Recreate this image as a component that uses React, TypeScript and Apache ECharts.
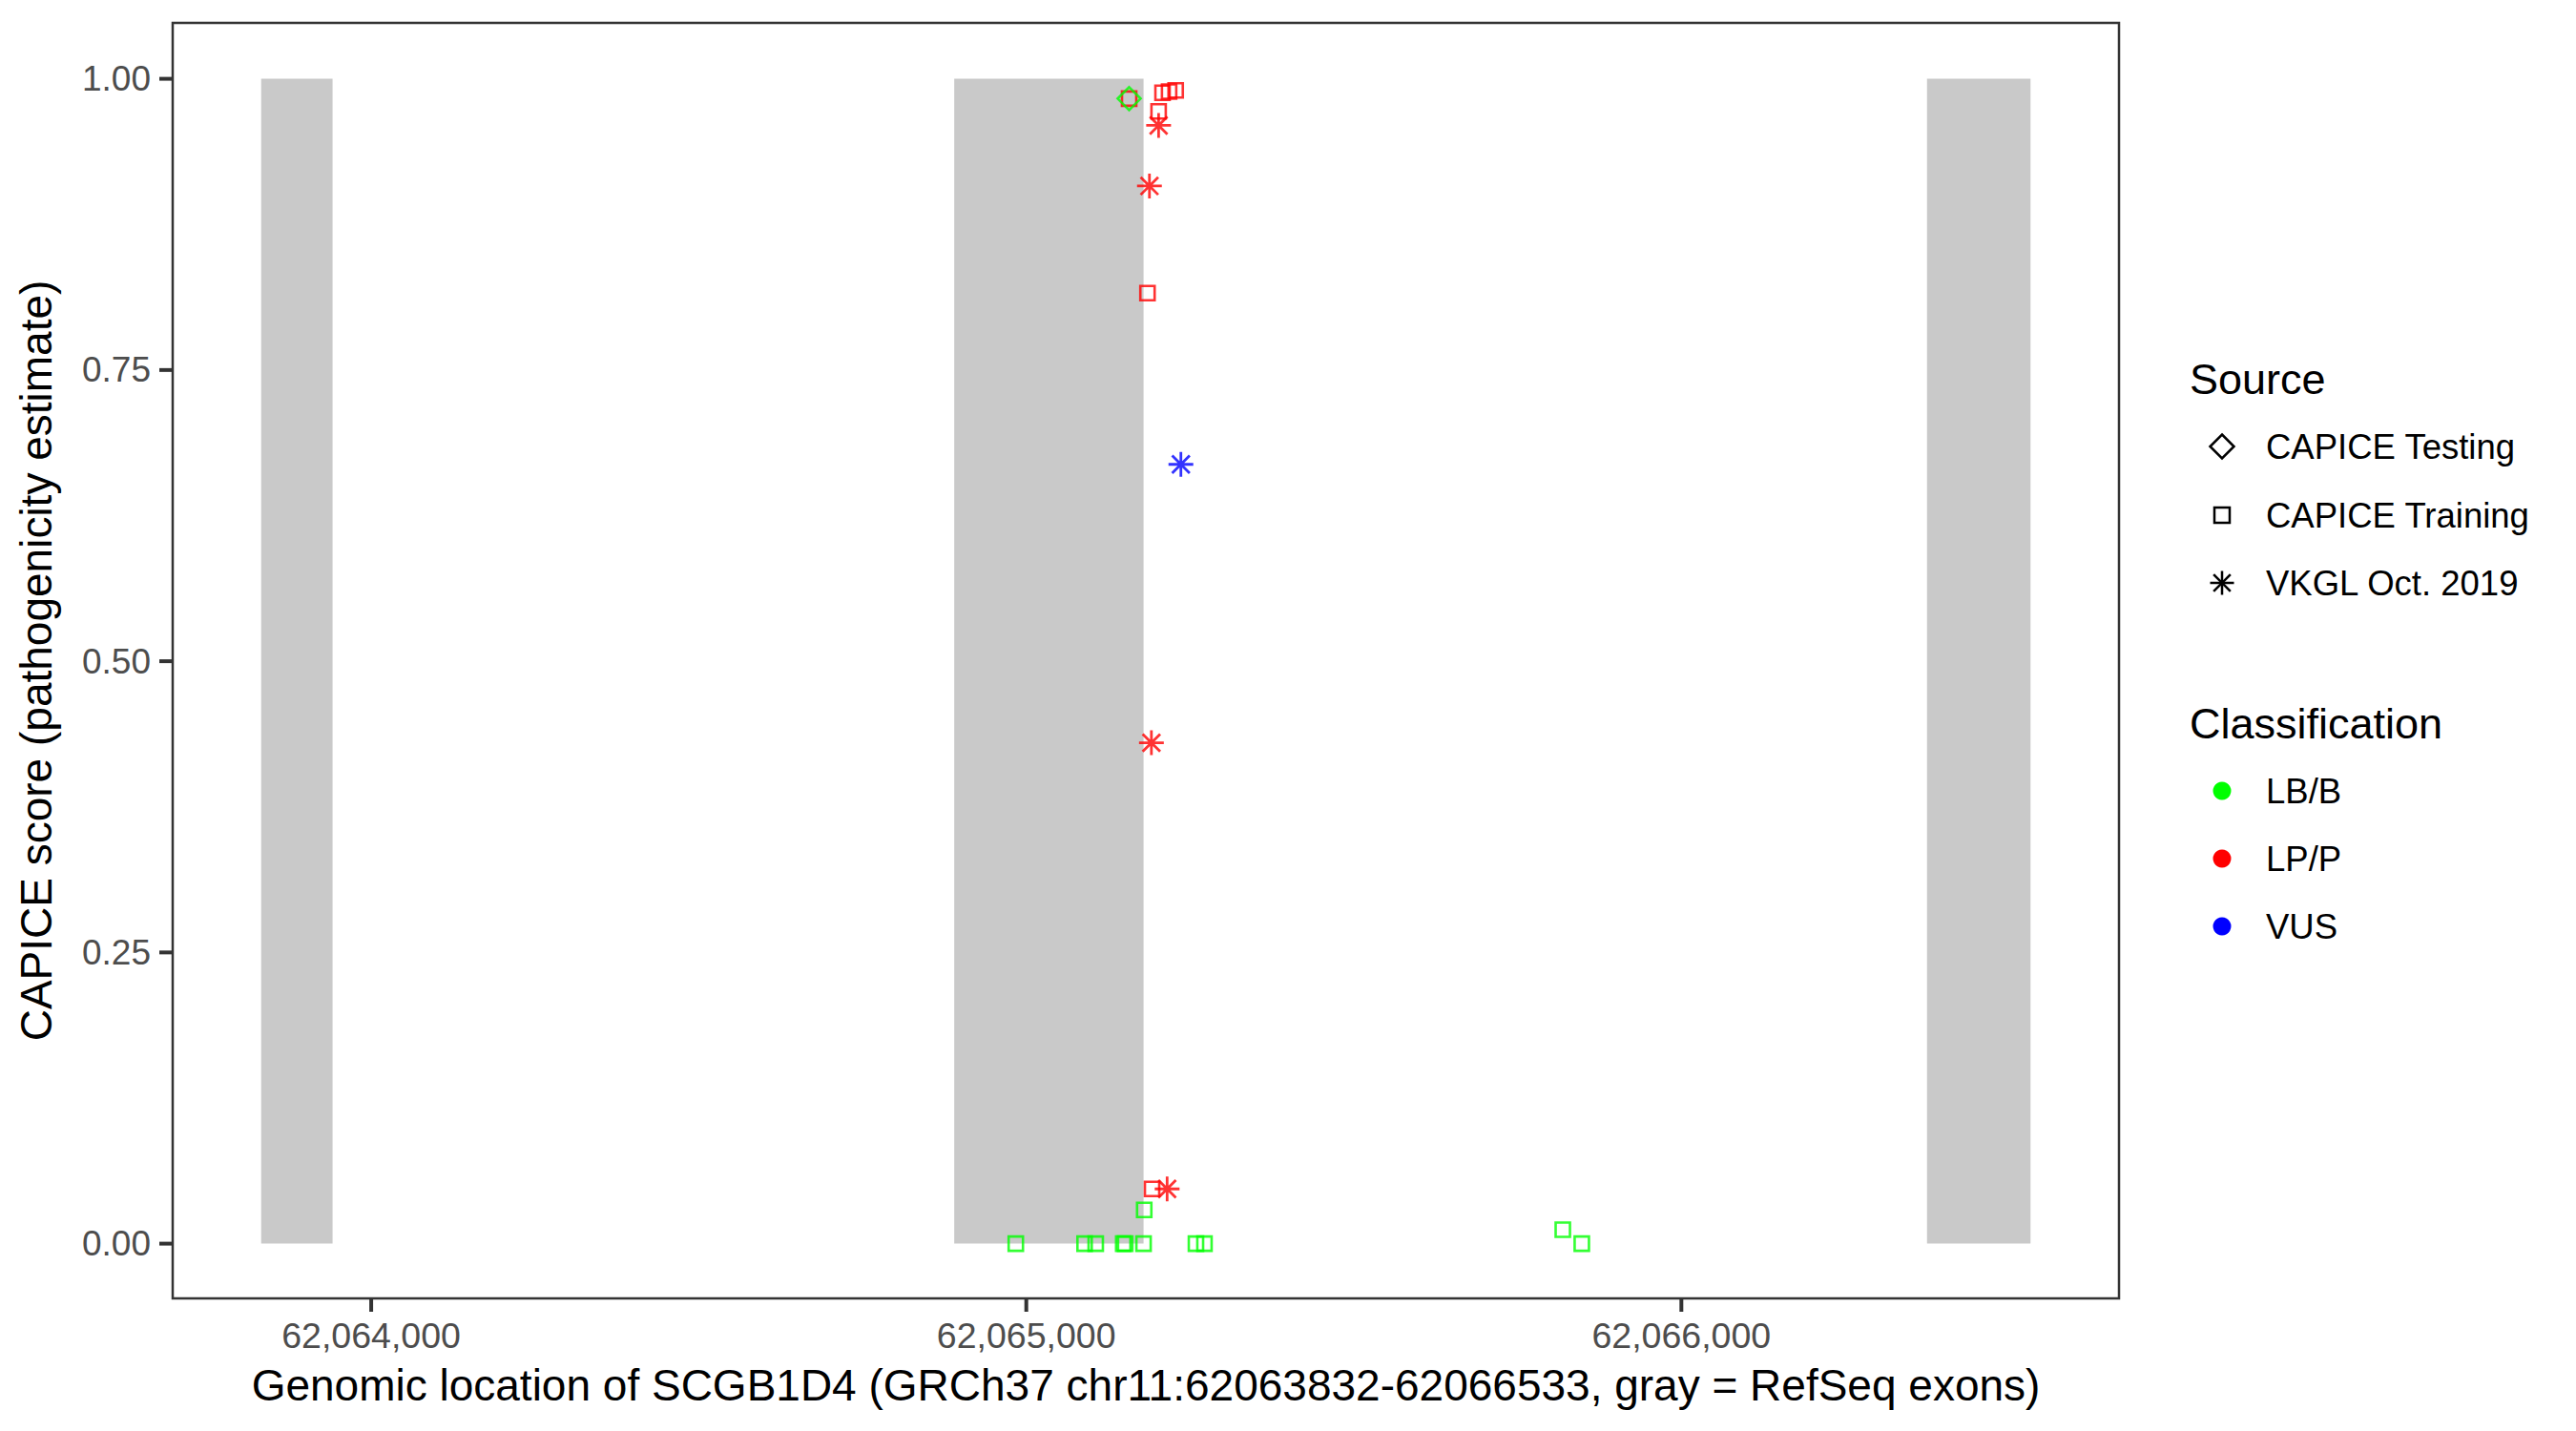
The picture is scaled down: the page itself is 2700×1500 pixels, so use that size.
import React, { useEffect, useRef } from "react";
import * as echarts from "echarts";

// ---- Data ----
const regionStart = 62063832;
const regionEnd = 62066533;

const exonStarts = [62063832, 62064890, 62066375];
const exonEnds = [62063941, 62065179, 62066533];

const xTicks = [62064000, 62065000, 62066000];
const yTicks = [0, 0.25, 0.5, 0.75, 1];

// CAPICE Training, LB/B (green squares)
const trainLBx = [62065180, 62064984, 62065089, 62065106, 62065148, 62065151, 62065179, 62065259, 62065272, 62065819, 62065848];
const trainLBy = [0.029, 0.0, 0.0, 0.0, 0.0, 0.0, 0.0, 0.0, 0.0, 0.012, 0.0];

// CAPICE Training, LP/P (red squares)
const trainLPx = [62065157, 62065208, 62065218, 62065228, 62065202, 62065185, 62065192];
const trainLPy = [0.983, 0.988, 0.989, 0.99, 0.972, 0.816, 0.047];

// CAPICE Testing, LB/B (green diamond)
const testLBx = [62065157];
const testLBy = [0.983];

// VKGL Oct. 2019, LP/P (red asterisks)
const vkglLPx = [62065202, 62065188, 62065191, 62065215];
const vkglLPy = [0.96, 0.908, 0.43, 0.047];

// VKGL Oct. 2019, VUS (blue asterisk)
const vkglVUSx = [62065236];
const vkglVUSy = [0.669];

const sourceLabels = ["CAPICE Testing", "CAPICE Training", "VKGL Oct. 2019"];
const classLabels = ["LB/B", "LP/P", "VUS"];
const classColors = ["#00FF00", "#FF0000", "#0000FF"];

const FONT = "'Liberation Sans', Arial, Helvetica, sans-serif";
const STAR = "path://M10,0L10,20M0,10L20,10M2.93,2.93L17.07,17.07M2.93,17.07L17.07,2.93";

const zip = (xs: number[], ys: number[]) => xs.map((x, i) => [x, ys[i]]);

export default function App() {
  const ref = useRef<HTMLDivElement>(null);

  useEffect(() => {
    document.body.style.margin = "0";
    if (!ref.current) return;
    const chart = echarts.init(ref.current, undefined, { renderer: "svg" });

    const pad = (regionEnd - regionStart) * 0.05;
    const yMin = -0.047;
    const yMax = 1.048;
    const TICK_LEN = 14;
    const TICK_W = 4;
    const TICK_COLOR = "#333333";

    const squareStyle = (c: string) => ({ color: "transparent", borderColor: c, borderWidth: 2.6 });
    const starStyle = (c: string) => ({ color: "transparent", borderColor: c, borderWidth: 2.8 });

    // legend graphics
    const lx = 2329;
    const rowsS = [468, 540, 611];
    const rowsC = [829, 900, 971];
    const r = 12.5;
    const legend: any[] = [
      { type: "text", x: 2295, y: 397, style: { text: "Source", font: `45px ${FONT}`, fill: "#000", verticalAlign: "middle", align: "left" } },
      { type: "text", x: 2295, y: 758, style: { text: "Classification", font: `45px ${FONT}`, fill: "#000", verticalAlign: "middle", align: "left" } },
      {
        type: "polygon",
        shape: { points: [[lx, rowsS[0] - r], [lx + r, rowsS[0]], [lx, rowsS[0] + r], [lx - r, rowsS[0]]] },
        style: { fill: "none", stroke: "#000", lineWidth: 2.5 },
      },
      { type: "rect", shape: { x: lx - 8, y: rowsS[1] - 8, width: 16, height: 16 }, style: { fill: "none", stroke: "#000", lineWidth: 2.5 } },
      { type: "line", shape: { x1: lx, y1: rowsS[2] - r, x2: lx, y2: rowsS[2] + r }, style: { stroke: "#000", lineWidth: 2.5 } },
      { type: "line", shape: { x1: lx - r, y1: rowsS[2], x2: lx + r, y2: rowsS[2] }, style: { stroke: "#000", lineWidth: 2.5 } },
      { type: "line", shape: { x1: lx - r * 0.707, y1: rowsS[2] - r * 0.707, x2: lx + r * 0.707, y2: rowsS[2] + r * 0.707 }, style: { stroke: "#000", lineWidth: 2.5 } },
      { type: "line", shape: { x1: lx - r * 0.707, y1: rowsS[2] + r * 0.707, x2: lx + r * 0.707, y2: rowsS[2] - r * 0.707 }, style: { stroke: "#000", lineWidth: 2.5 } },
    ];
    sourceLabels.forEach((t, i) => {
      legend.push({ type: "text", x: 2375, y: rowsS[i], style: { text: t, font: `36.5px ${FONT}`, fill: "#000", verticalAlign: "middle", align: "left" } });
    });
    classLabels.forEach((t, i) => {
      legend.push({ type: "circle", shape: { cx: lx, cy: rowsC[i], r: 9.5 }, style: { fill: classColors[i] } });
      legend.push({ type: "text", x: 2375, y: rowsC[i], style: { text: t, font: `36.5px ${FONT}`, fill: "#000", verticalAlign: "middle", align: "left" } });
    });

    const axisLine = { show: false, onZero: false };

    chart.setOption({
      animation: false,
      backgroundColor: "#FFFFFF",
      grid: {
        left: 181,
        right: 479,
        top: 24,
        bottom: 139,
        show: true,
        backgroundColor: "#FFFFFF",
        borderColor: "#333333",
        borderWidth: 2.5,
        containLabel: false,
      },
      xAxis: {
        type: "value",
        min: regionStart - pad,
        max: regionEnd + pad,
        name: "Genomic location of SCGB1D4 (GRCh37 chr11:62063832-62066533, gray = RefSeq exons)",
        nameLocation: "middle",
        nameGap: 68,
        nameTextStyle: { fontFamily: FONT, fontSize: 46, color: "#000" },
        axisLine,
        splitLine: { show: false },
        axisTick: { show: false },
        axisLabel: {
          fontFamily: FONT,
          fontSize: 37.5,
          color: "#4D4D4D",
          margin: 20,
          customValues: xTicks,
          formatter: (v: number) => Math.round(v).toLocaleString("en-US"),
        },
      },
      yAxis: {
        type: "value",
        min: yMin,
        max: yMax,
        name: "CAPICE score (pathogenicity estimate)",
        nameLocation: "middle",
        nameGap: 120,
        nameTextStyle: { fontFamily: FONT, fontSize: 46, color: "#000" },
        axisLine,
        splitLine: { show: false },
        axisTick: { show: false },
        axisLabel: {
          fontFamily: FONT,
          fontSize: 37,
          color: "#4D4D4D",
          margin: 23,
          customValues: yTicks,
          formatter: (v: number) => v.toFixed(2),
        },
      },
      graphic: legend,
      series: [
        {
          type: "custom",
          name: "Exons",
          silent: true,
          data: exonStarts.map((s, i) => [s, exonEnds[i]]),
          renderItem: (params: any, api: any) => {
            const p0 = api.coord([api.value(0), 1]);
            const p1 = api.coord([api.value(1), 0]);
            return {
              type: "rect",
              shape: { x: p0[0], y: p0[1], width: p1[0] - p0[0], height: p1[1] - p0[1] },
              style: { fill: "#C9C9C9" },
            };
          },
          encode: { x: [0, 1] },
        },
        {
          type: "scatter",
          name: "CAPICE Training LB/B",
          symbol: "rect",
          symbolSize: 15,
          itemStyle: squareStyle("#00FF00"),
          data: zip(trainLBx, trainLBy),
          silent: true,
        },
        {
          type: "scatter",
          name: "CAPICE Training LP/P",
          symbol: "rect",
          symbolSize: 15,
          itemStyle: squareStyle("#FF0000"),
          data: zip(trainLPx, trainLPy),
          silent: true,
        },
        {
          type: "scatter",
          name: "CAPICE Testing LB/B",
          symbol: "diamond",
          symbolSize: 24,
          itemStyle: squareStyle("#00FF00"),
          data: zip(testLBx, testLBy),
          silent: true,
        },
        {
          type: "scatter",
          name: "VKGL LP/P",
          symbol: STAR,
          symbolSize: 26,
          itemStyle: starStyle("#FF0000"),
          data: zip(vkglLPx, vkglLPy),
          silent: true,
        },
        {
          type: "scatter",
          name: "VKGL VUS",
          symbol: STAR,
          symbolSize: 26,
          itemStyle: starStyle("#0000FF"),
          data: zip(vkglVUSx, vkglVUSy),
          silent: true,
        },
        // x-axis tick marks (outside the panel), placed by the x scale
        {
          type: "custom",
          name: "xTicks",
          silent: true,
          clip: false,
          z: 20,
          data: xTicks.map((v) => [v, yMin]),
          encode: { x: 0, y: 1 },
          renderItem: (params: any, api: any) => {
            const p = api.coord([api.value(0), yMin]);
            return {
              type: "rect",
              shape: { x: p[0] - TICK_W / 2, y: p[1], width: TICK_W, height: TICK_LEN },
              style: { fill: TICK_COLOR },
            };
          },
        },
        // y-axis tick marks (outside the panel), placed by the y scale
        {
          type: "custom",
          name: "yTicks",
          silent: true,
          clip: false,
          z: 20,
          data: yTicks.map((v) => [regionStart - pad, v]),
          encode: { x: 0, y: 1 },
          renderItem: (params: any, api: any) => {
            const p = api.coord([regionStart - pad, api.value(1)]);
            return {
              type: "rect",
              shape: { x: p[0] - TICK_LEN, y: p[1] - TICK_W / 2, width: TICK_LEN, height: TICK_W },
              style: { fill: TICK_COLOR },
            };
          },
        },
      ],
    });

    return () => chart.dispose();
  }, []);

  return <div ref={ref} style={{ width: 2700, height: 1500 }} />;
}
